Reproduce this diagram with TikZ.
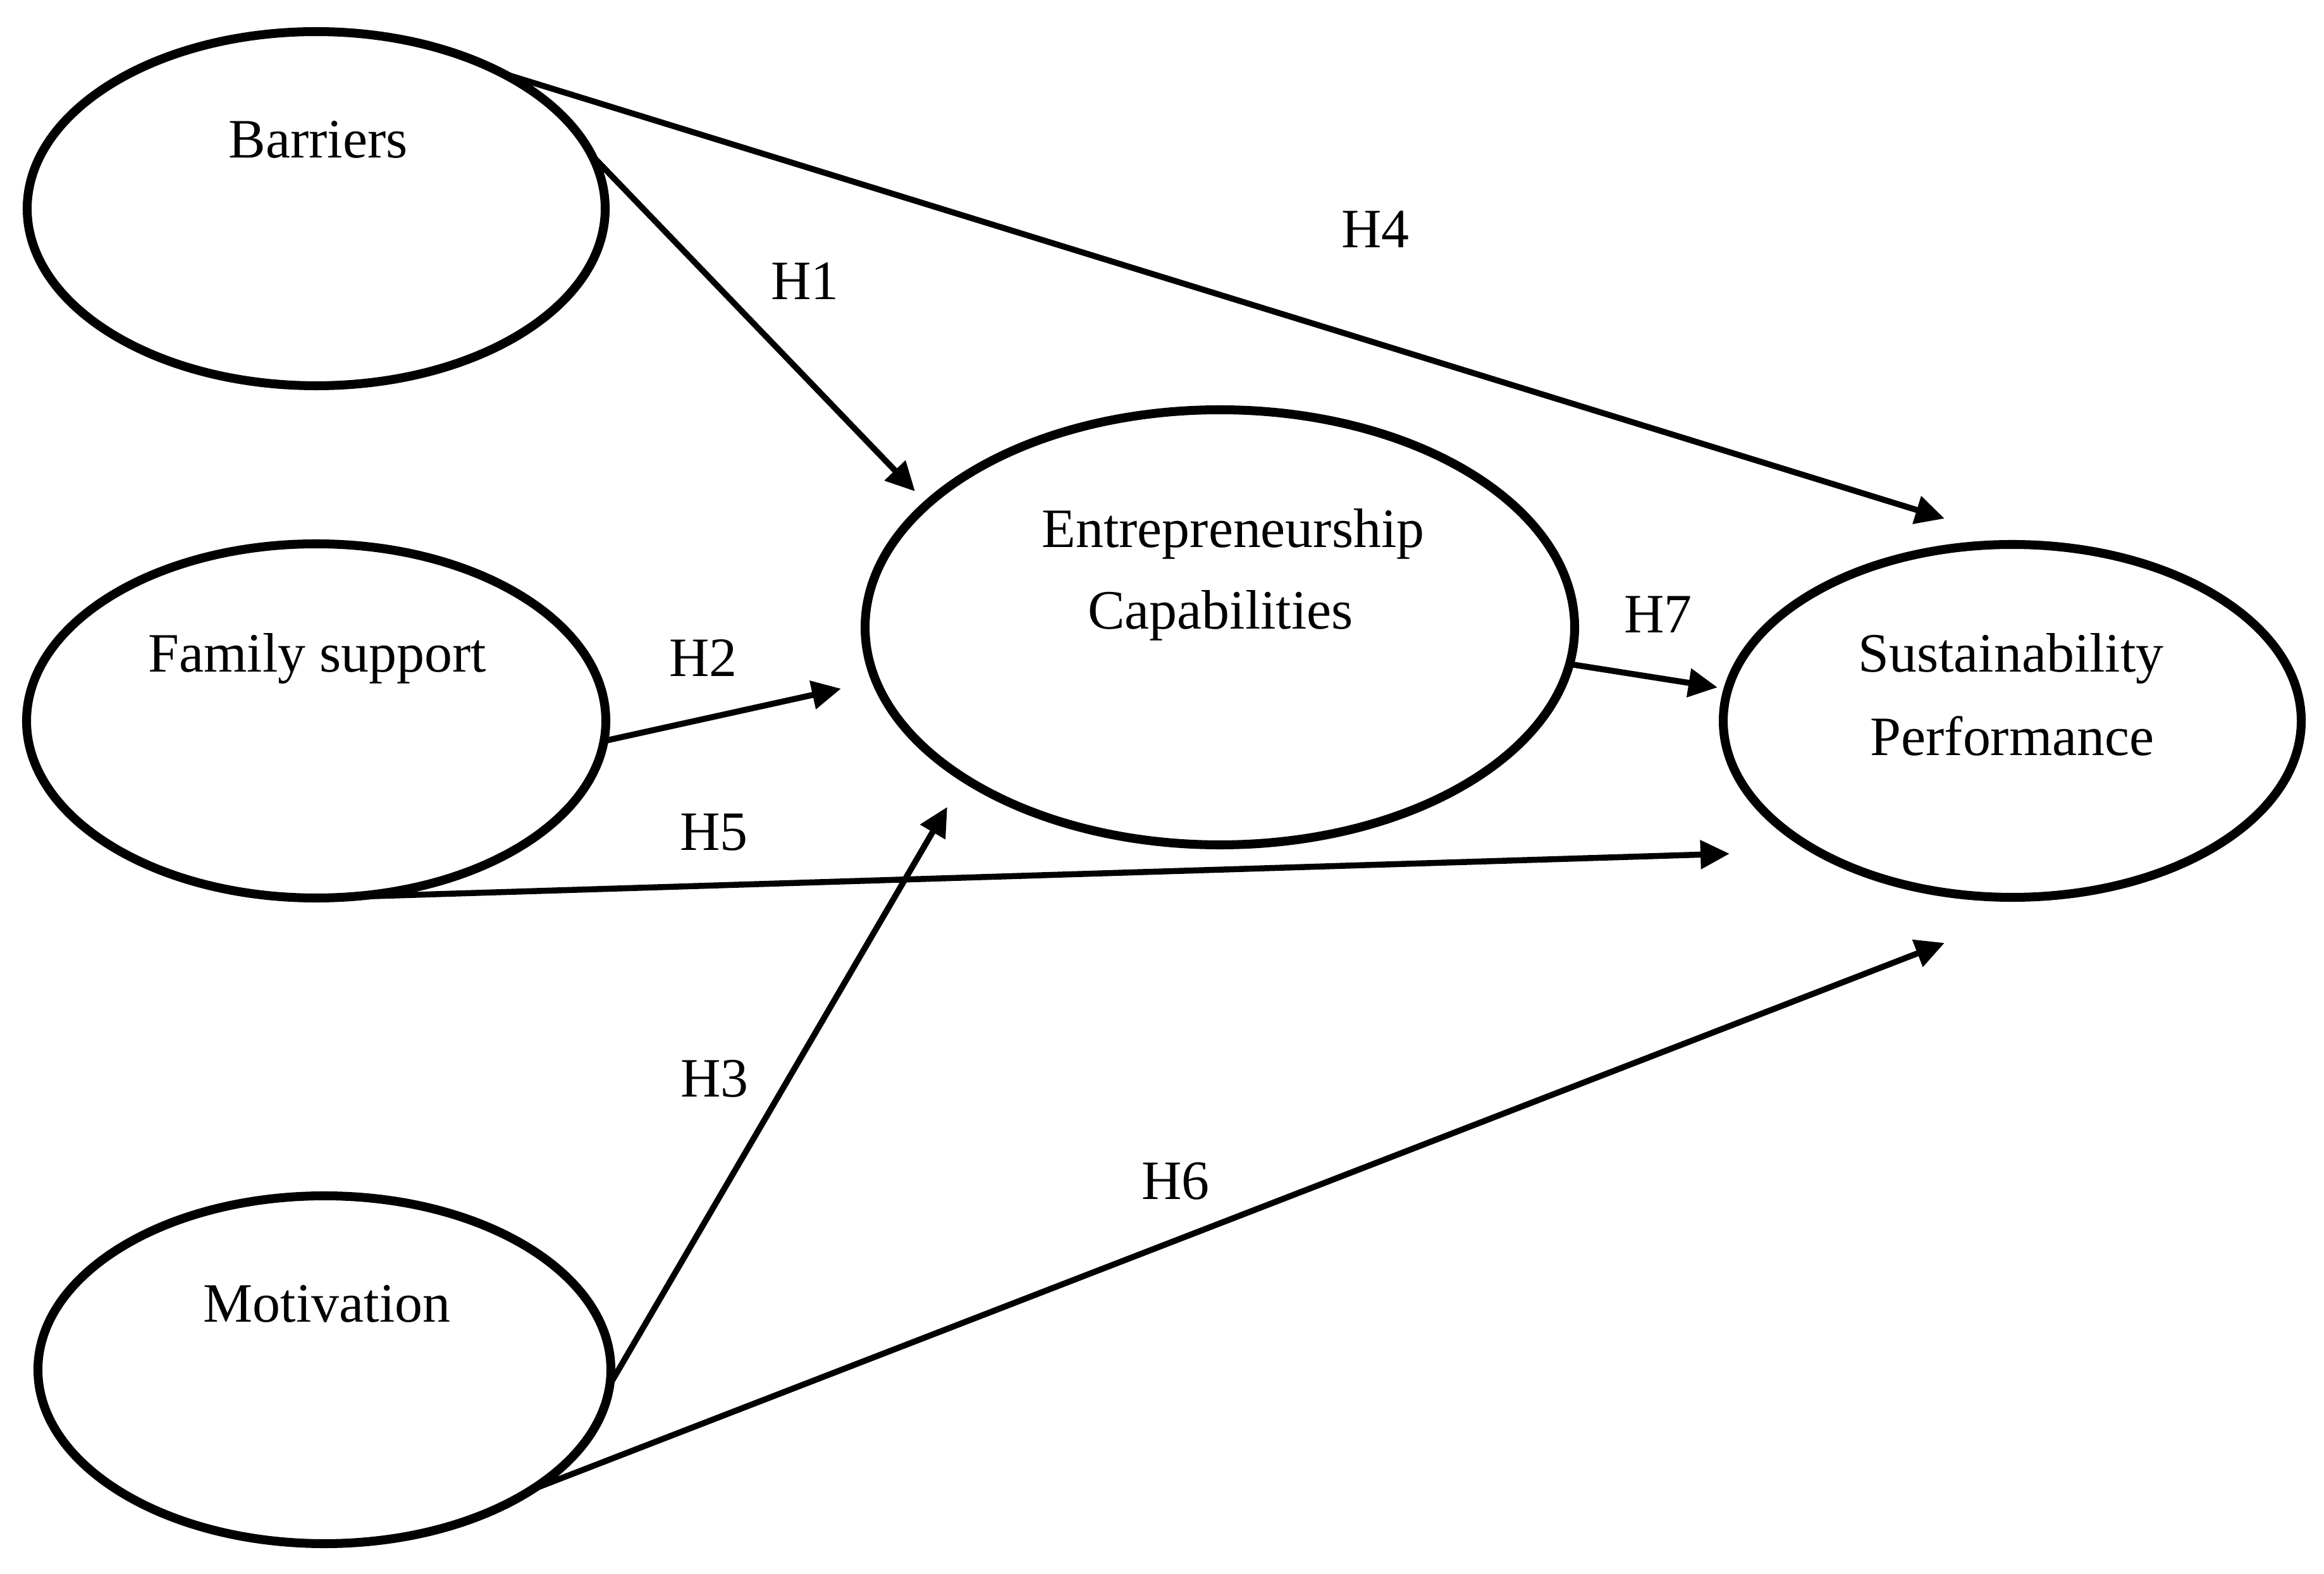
\documentclass[tikz,border=0pt]{standalone}
\usepackage{fontspec}
\setmainfont{Liberation Serif}
\usetikzlibrary{shapes.geometric,arrows.meta}
\begin{document}
\begin{tikzpicture}[
  construct/.style={draw, ellipse, line width=4pt, inner sep=0pt, outer sep=0pt},
  txt/.style={inner sep=0pt, anchor=base, font=\fontsize{25}{30}\selectfont},
  hyp/.style={inner sep=0pt, anchor=center, font=\fontsize{25}{30}\selectfont},
  link/.style={line width=2.7pt, -{Triangle[length=0.46cm,width=0.44cm]}}
]
\useasboundingbox (0,0) rectangle (36.75,24.88);

% constructs
\node[construct, minimum width=9.14cm, minimum height=5.60cm] (bar) at (5.00,21.58) {};
\node[construct, minimum width=9.16cm, minimum height=5.60cm] (fam) at (5.00,13.48) {};
\node[construct, minimum width=9.06cm, minimum height=5.50cm] (mot) at (5.13,3.22) {};
\node[construct, minimum width=11.22cm, minimum height=6.88cm] (ent) at (19.29,14.96) {};
\node[construct, minimum width=9.14cm, minimum height=5.58cm] (sus) at (31.82,13.48) {};

% construct texts
\node[txt] (barT) at (5.03,22.38) {Barriers};
\node[txt] (famT) at (5.02,14.25) {Family support};
\node[txt] (motT) at (5.17,3.98) {Motivation};
\node[txt] (entT1) at (19.50,16.22) {Entrepreneurship};
\node[txt] (entT2) at (19.30,14.93) {Capabilities};
\node[txt] (susT1) at (31.80,14.25) {Sustainability};
\node[txt] (susT2) at (31.82,12.93) {Performance};

% arrow tips
\coordinate (t1) at (14.47,17.11);
\coordinate (t4) at (30.75,16.68);
\coordinate (t2) at (13.30,13.99);
\coordinate (t5) at (27.35,11.38);
\coordinate (t3) at (14.98,12.12);
\coordinate (t6) at (30.75,9.97);
\coordinate (t7) at (27.16,14.01);

% connectors
\draw[link] (bar.11) -- (t1);
\draw[link] (bar.36) -- (t4);
\draw[link] (fam.-4) -- (t2);
\draw[link] (fam.-80) -- (t5);
\draw[link] (mot.-3) -- (t3);
\draw[link] (mot.-30) -- (t6);
\draw[link] (ent.-6) -- (t7);

% hypothesis labels
\node[hyp] (h1) at (12.73,20.43) {H1};
\node[hyp] (h4) at (21.75,21.25) {H4};
\node[hyp] (h2) at (11.12,14.48) {H2};
\node[hyp] (h5) at (11.29,11.72) {H5};
\node[hyp] (h3) at (11.30,7.82) {H3};
\node[hyp] (h6) at (18.59,6.20) {H6};
\node[hyp] (h7) at (26.22,15.16) {H7};
\end{tikzpicture}
\end{document}
